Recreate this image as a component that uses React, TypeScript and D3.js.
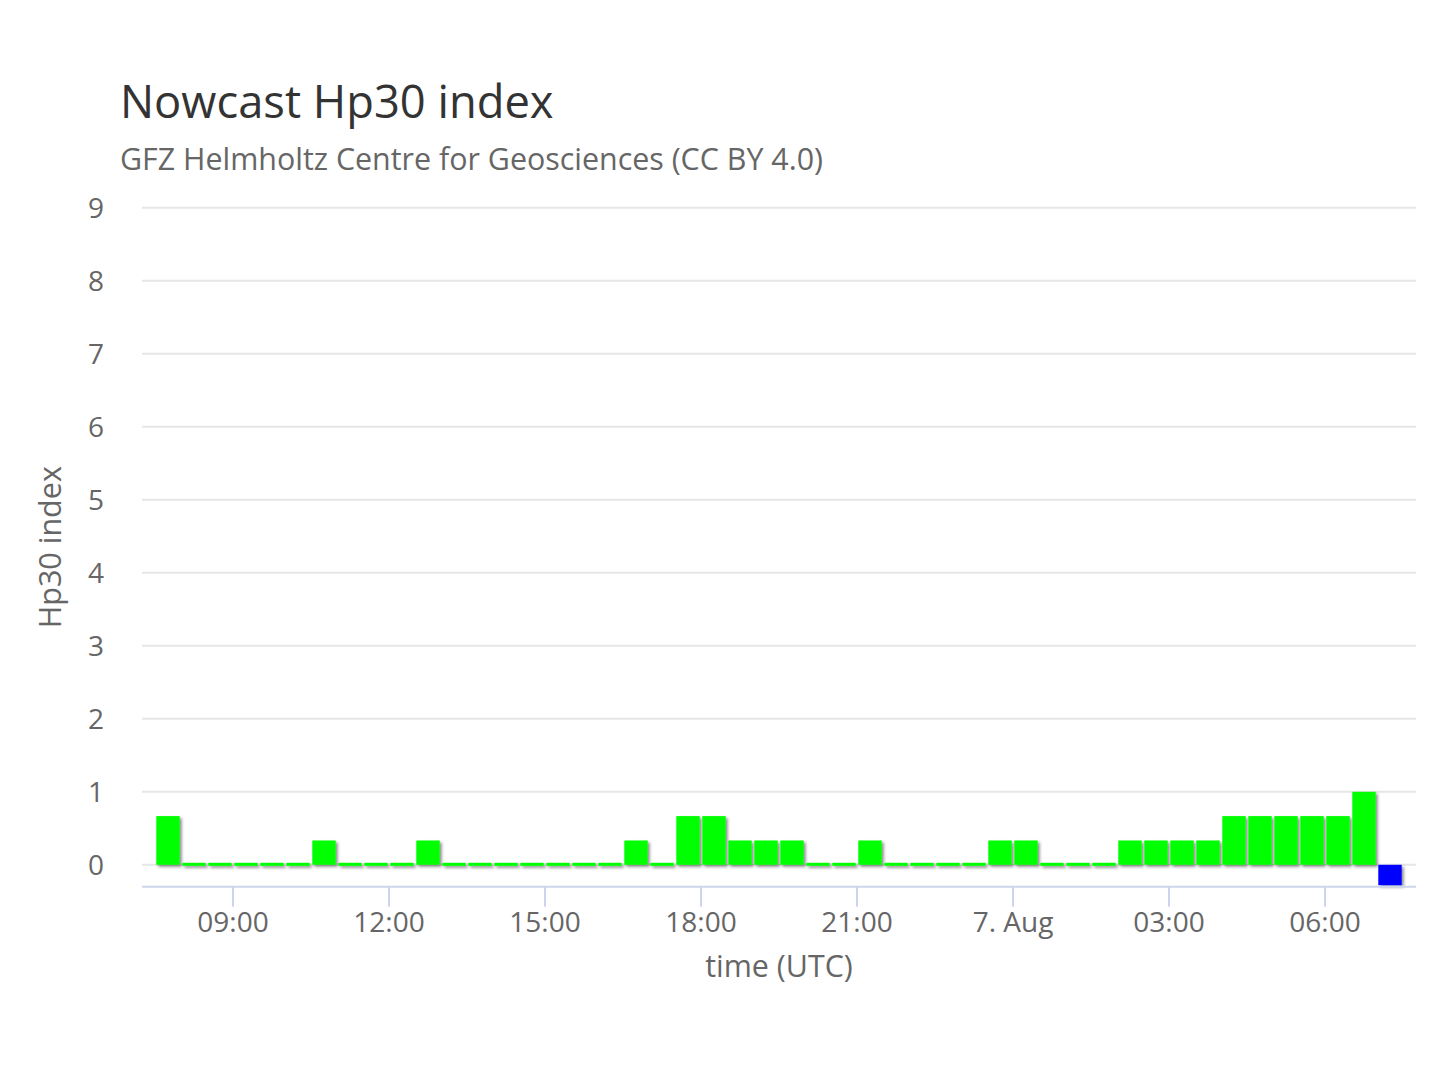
import React from "react";
import * as d3 from "d3";

// ---- data ----
const titleText = "Nowcast Hp30 index";
const subtitleText = "GFZ Helmholtz Centre for Geosciences (CC BY 4.0)";
const yAxisTitle = "Hp30 index";
const xAxisTitle = "time (UTC)";

// first 30-minute interval centre (UTC) and step in minutes
const seriesStart = "2024-08-06T07:45:00Z";
const stepMinutes = 30;

// Hp30 values (green series), one per 30-minute interval
const hp30Values = [
  0.667, 0, 0, 0, 0, 0, 0.333, 0, 0, 0,
  0.333, 0, 0, 0, 0, 0, 0, 0, 0.333, 0,
  0.667, 0.667, 0.333, 0.333, 0.333, 0, 0, 0.333, 0, 0,
  0, 0, 0.333, 0.333, 0, 0, 0, 0.333, 0.333, 0.333,
  0.333, 0.667, 0.667, 0.667, 0.667, 0.667, 1.0,
];

// nowcast (blue) point
const nowcastTimes = ["2024-08-07T07:15:00Z"];
const nowcastValues = [-0.3];

const yTicks = [0, 1, 2, 3, 4, 5, 6, 7, 8, 9];
const yDomain = [-0.3, 9];
const xDomain = ["2024-08-06T07:15:00Z", "2024-08-07T07:45:00Z"];

// ---- layout ----
const W = 1440;
const H = 1080;
const plotLeft = 142;
const plotRight = 1416;
const plotTop = 207.7;
const plotBottom = 886.7;

const FONT = "'Open Sans', 'DejaVu Sans', sans-serif";

export default function App() {
  const start = new Date(seriesStart);
  const hpTimes = hp30Values.map((_, i) => d3.utcMinute.offset(start, stepMinutes * i));

  const x = d3
    .scaleUtc()
    .domain(xDomain.map((d) => new Date(d)))
    .range([plotLeft, plotRight]);
  const y = d3.scaleLinear().domain(yDomain).range([plotBottom, plotTop]);

  const step = x(d3.utcMinute.offset(start, stepMinutes)) - x(start);
  const barW = step * 0.9;
  const y0 = y(0);

  const xTicks = d3.utcHour.every(3)!.range(x.domain()[0], x.domain()[1]);
  const fmt = (d: Date) =>
    d.getUTCHours() === 0 && d.getUTCMinutes() === 0
      ? `${d.getUTCDate()}. ${d3.utcFormat("%b")(d)}`
      : d3.utcFormat("%H:%M")(d);

  const barRect = (t: Date, v: number) => {
    const cx = x(t);
    let top: number, h: number;
    if (v === 0) {
      top = y0 - 2;
      h = 3;
    } else if (v > 0) {
      top = y(v);
      h = y0 - y(v);
    } else {
      top = y0;
      h = Math.min(y(v), plotBottom - 1.5) - y0;
    }
    return { x: cx - barW / 2, y: top, w: barW, h };
  };

  return (
    <svg
      width={W}
      height={H}
      style={{ position: "absolute", left: 0, top: 0, background: "#ffffff" }}
      fontFamily={FONT}
    >
      <defs>
        <filter id="shadow" x="-20%" y="-20%" width="140%" height="140%">
          <feDropShadow dx="2" dy="2" stdDeviation="1.5" floodColor="#000" floodOpacity="0.45" />
        </filter>
      </defs>
      <rect x={0} y={0} width={W} height={H} fill="#fff" />

      {/* titles */}
      <text x={120} y={118} fontSize={45.3} fill="#333333">
        {titleText}
      </text>
      <text x={120} y={170} fontSize={30.4} fill="#666666">
        {subtitleText}
      </text>

      {/* grid */}
      {yTicks.map((t) => (
        <line
          key={"g" + t}
          x1={plotLeft}
          x2={plotRight}
          y1={y(t)}
          y2={y(t)}
          stroke="#e6e6e6"
          strokeWidth={2}
        />
      ))}

      {/* y tick labels */}
      {yTicks.map((t) => (
        <text
          key={"yl" + t}
          x={104}
          y={y(t) + 10}
          textAnchor="end"
          fontSize={28}
          fill="#666666"
        >
          {t}
        </text>
      ))}

      {/* y axis title */}
      <text
        transform={`translate(61,${(plotTop + plotBottom) / 2}) rotate(-90)`}
        textAnchor="middle"
        fontSize={30.5}
        fill="#666666"
      >
        {yAxisTitle}
      </text>

      {/* bars */}
      <g filter="url(#shadow)">
        {hp30Values.map((v, i) => {
          const r = barRect(hpTimes[i], v);
          return (
            <rect key={"b" + i} x={r.x} y={r.y} width={r.w} height={r.h} fill="#00ff00" />
          );
        })}
        {nowcastValues.map((v, i) => {
          const r = barRect(new Date(nowcastTimes[i]), v);
          return (
            <rect key={"n" + i} x={r.x} y={r.y} width={r.w} height={r.h} fill="#0000ff" />
          );
        })}
      </g>

      {/* x axis */}
      <line
        x1={plotLeft}
        x2={plotRight}
        y1={plotBottom}
        y2={plotBottom}
        stroke="#ccd6eb"
        strokeWidth={2}
      />
      {xTicks.map((t, i) => (
        <g key={"xt" + i}>
          <line
            x1={x(t)}
            x2={x(t)}
            y1={plotBottom}
            y2={plotBottom + 20}
            stroke="#ccd6eb"
            strokeWidth={2}
          />
          <text x={x(t)} y={932} textAnchor="middle" fontSize={28} fill="#666666">
            {fmt(t)}
          </text>
        </g>
      ))}
      <text
        x={(plotLeft + plotRight) / 2}
        y={977}
        textAnchor="middle"
        fontSize={30.4}
        fill="#666666"
      >
        {xAxisTitle}
      </text>
    </svg>
  );
}
